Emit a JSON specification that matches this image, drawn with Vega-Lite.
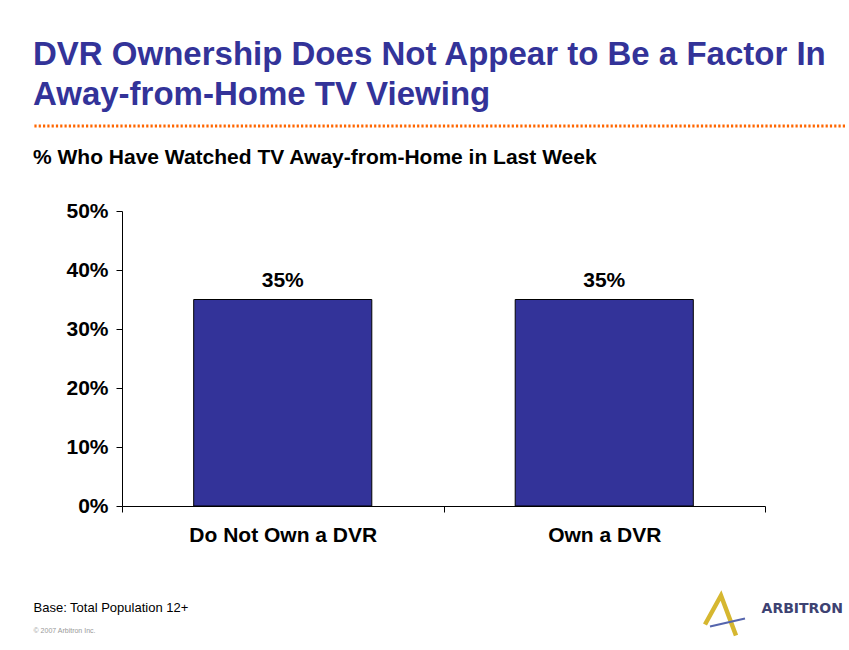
{
  "$schema": "https://vega.github.io/schema/vega-lite/v6.json",
  "padding": {"left": 31, "top": 38, "right": 0, "bottom": 8},
  "config": {"view": {"stroke": null}, "font": "Liberation Sans"},
  "spacing": 19,
  "vconcat": [
    {
      "data": {"values": [{"divider": "heading"}]},
      "width": 812,
      "height": 1,
      "title": {
        "text": ["DVR Ownership Does Not Appear to Be a Factor In", "Away-from-Home TV Viewing"],
        "anchor": "start",
        "frame": "group",
        "fontSize": 33,
        "fontWeight": "bold",
        "color": "#333399",
        "lineHeight": 40.3,
        "offset": 12.5
      },
      "mark": {"type": "rule", "color": "#FF6600", "strokeWidth": 3, "strokeDash": [2.2, 2.1]},
      "encoding": {"y": {"datum": 0, "axis": null}}
    },
    {
      "data": {"values": [
        {"group": "Do Not Own a DVR", "pct": 0.35},
        {"group": "Own a DVR", "pct": 0.35}
      ]},
      "width": 812,
      "height": 295,
      "title": {
        "text": "% Who Have Watched TV Away-from-Home in Last Week",
        "anchor": "start",
        "frame": "group",
        "fontSize": 21,
        "fontWeight": "bold",
        "color": "black",
        "offset": 32
      },
      "encoding": {
        "x": {
          "field": "group",
          "type": "nominal",
          "sort": null,
          "scale": {"range": [89, 732], "paddingInner": 0, "paddingOuter": 0},
          "axis": {
            "title": "Base:  Total Population 12+",
            "titleX": 0,
            "titleY": 105.2,
            "titleAlign": "left",
            "titleBaseline": "alphabetic",
            "titleFontSize": 13,
            "titleFontWeight": "normal",
            "titleColor": "black",
            "labelAngle": 0,
            "labelFontSize": 21,
            "labelFontWeight": "bold",
            "labelColor": "black",
            "labelPadding": 12,
            "labelLimit": 0,
            "tickSize": 6,
            "tickBand": "extent",
            "tickColor": "black",
            "domainColor": "black"
          }
        },
        "y": {
          "field": "pct",
          "type": "quantitative",
          "scale": {"domain": [0, 0.5]},
          "axis": {
            "values": [0, 0.1, 0.2, 0.3, 0.4, 0.5],
            "format": ".0%",
            "offset": -89,
            "grid": false,
            "tickSize": 6,
            "labelPadding": 8,
            "labelFontSize": 21,
            "labelFontWeight": "bold",
            "labelColor": "black",
            "tickColor": "black",
            "domainColor": "black",
            "title": "© 2007 Arbitron Inc.",
            "titleAngle": 0,
            "titleX": -89,
            "titleY": 421.7,
            "titleAlign": "left",
            "titleBaseline": "alphabetic",
            "titleFontSize": 7,
            "titleFontWeight": "normal",
            "titleColor": "#999999"
          }
        }
      },
      "layer": [
        {
          "mark": {"type": "bar", "width": {"band": 0.554}, "color": "#333399", "stroke": "#000000", "strokeWidth": 1}
        },
        {
          "mark": {"type": "text", "dy": -13, "baseline": "alphabetic", "fontSize": 21, "fontWeight": "bold", "color": "black"},
          "encoding": {"text": {"field": "pct", "type": "quantitative", "format": ".0%"}}
        },
        {
          "data": {"values": [{"brand": "ARBITRON"}]},
          "mark": {"type": "text", "align": "right", "baseline": "alphabetic", "dx": -2, "dy": 106.8, "font": "DejaVu Sans", "fontSize": 14, "fontWeight": "bold", "color": "#3d4272"},
          "encoding": {"x": {"value": "width"}, "y": {"value": "height"}, "text": {"field": "brand"}}
        },
        {
          "data": {"values": [{"brand": "ARBITRON"}]},
          "mark": {"type": "point", "shape": "M -140 118.5 L -124 89.5 L -109 129.5", "size": 4, "filled": false, "stroke": "#D6B730", "strokeWidth": 4.5, "opacity": 1},
          "encoding": {"x": {"value": "width"}, "y": {"value": "height"}}
        },
        {
          "data": {"values": [{"brand": "ARBITRON"}]},
          "mark": {"type": "point", "shape": "M -135 120.5 L -100 112.5", "size": 4, "filled": false, "stroke": "#5565ad", "strokeWidth": 2, "opacity": 1},
          "encoding": {"x": {"value": "width"}, "y": {"value": "height"}}
        }
      ]
    }
  ]
}
